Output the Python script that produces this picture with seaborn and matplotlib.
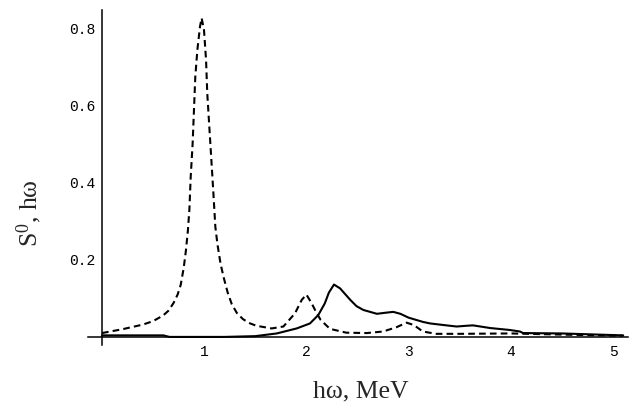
import numpy as np
import pandas as pd
import matplotlib
matplotlib.use("Agg")
import matplotlib.pyplot as plt
from matplotlib.ticker import FixedLocator
import seaborn as sns

# Strength function curves (energy in MeV)
x_dash = [0.00, 0.20, 0.40, 0.50, 0.60, 0.65, 0.70, 0.74, 0.77, 0.80, 0.82,
          0.84, 0.855, 0.868, 0.887, 0.90, 0.913, 0.933, 0.959, 0.975, 0.998,
          1.018, 1.030, 1.050, 1.070, 1.090, 1.109, 1.13, 1.16, 1.19, 1.23,
          1.27, 1.32, 1.38, 1.45, 1.51, 1.66, 1.775, 1.888, 1.954, 2.00, 2.05,
          2.10, 2.14, 2.23, 2.39, 2.59, 2.75, 2.88, 2.98, 3.05, 3.14, 3.27,
          3.50, 4.00, 4.50, 5.10]
y_dash = [0.010, 0.020, 0.032, 0.041, 0.056, 0.068, 0.088, 0.110, 0.135, 0.180,
          0.222, 0.275, 0.330, 0.416, 0.503, 0.590, 0.676, 0.745, 0.806, 0.828,
          0.797, 0.720, 0.633, 0.546, 0.460, 0.373, 0.286, 0.240, 0.190, 0.155,
          0.115, 0.085, 0.062, 0.046, 0.035, 0.029, 0.022, 0.027, 0.061, 0.096,
          0.110, 0.088, 0.062, 0.044, 0.021, 0.011, 0.010, 0.014, 0.025, 0.037,
          0.031, 0.014, 0.008, 0.008, 0.009, 0.006, 0.003]

x_solid = [0.00, 0.60, 0.66, 1.20, 1.50, 1.71, 1.905, 2.035, 2.117, 2.18, 2.22,
           2.27, 2.33, 2.43, 2.49, 2.557, 2.69, 2.78, 2.85, 2.92, 3.00, 3.14,
           3.21, 3.37, 3.47, 3.57, 3.63, 3.80, 3.99, 4.09, 4.12, 4.50, 5.10]
y_solid = [0.004, 0.004, 0.000, 0.000, 0.002, 0.009, 0.022, 0.035, 0.057, 0.087,
           0.115, 0.136, 0.126, 0.096, 0.080, 0.070, 0.060, 0.063, 0.065, 0.060,
           0.050, 0.039, 0.035, 0.030, 0.027, 0.029, 0.030, 0.023, 0.018, 0.014,
           0.010, 0.009, 0.004]

x_ticks = [1, 2, 3, 4, 5]
y_ticks = [0.2, 0.4, 0.6, 0.8]
y_tick_labels = ["0.2", "0.4", "0.6", "0.8"]

sns.set_style("white")
plt.rcParams["mathtext.fontset"] = "custom"
plt.rcParams["mathtext.rm"] = "Liberation Serif"
plt.rcParams["mathtext.it"] = "Liberation Serif:italic"

fig = plt.figure(figsize=(6.36, 4.08), dpi=100)
ax = fig.add_axes([88 / 636, 1 - 345 / 408, 540 / 636, 335 / 408])

dash_df = pd.DataFrame({"E": x_dash, "S": y_dash})
solid_df = pd.DataFrame({"E": x_solid, "S": y_solid})

sns.lineplot(data=dash_df, x="E", y="S", ax=ax, color="black", lw=1.5,
             linestyle=(0, (3.2, 2.0)), estimator=None)
sns.lineplot(data=solid_df, x="E", y="S", ax=ax, color="black", lw=1.5,
             estimator=None)

ax.set_xlim(-0.137, 5.147)
ax.set_ylim(-0.021, 0.849)

# axes crossing at the origin
for side in ("top", "right"):
    ax.spines[side].set_visible(False)
ax.spines["left"].set_position(("data", 0))
ax.spines["bottom"].set_position(("data", 0))
for side in ("left", "bottom"):
    ax.spines[side].set_color("black")
    ax.spines[side].set_linewidth(1.1)

ax.xaxis.set_major_locator(FixedLocator(x_ticks))
ax.set_xticklabels([str(t) for t in x_ticks])
ax.yaxis.set_major_locator(FixedLocator(y_ticks))
ax.set_yticklabels(y_tick_labels)
ax.xaxis.set_minor_locator(FixedLocator(np.arange(0.2, 5.01, 0.2)))
ax.yaxis.set_minor_locator(FixedLocator(np.arange(0.05, 0.84, 0.05)))

ax.tick_params(which="major", direction="in", length=4, width=0.9, color="black")
ax.tick_params(which="minor", direction="in", length=2.4, width=0.8, color="black")
ax.tick_params(axis="x", which="major", pad=6)
ax.tick_params(axis="y", which="major", pad=5)
for lab in ax.get_xticklabels() + ax.get_yticklabels():
    lab.set_fontfamily("Liberation Mono")
    lab.set_fontsize(10.5)
    lab.set_color("black")

ax.set_xlabel("")
ax.set_ylabel("")
fig.text(361 / 636, 1 - 391 / 408, "hω, MeV", family="Liberation Serif",
         fontsize=18.5, ha="center", va="center")
fig.text(29 / 636, 1 - 213 / 408, r"S$^{\mathrm{0}}$, hω", family="Liberation Serif",
         fontsize=18.5, rotation=90, ha="center", va="center")

fig.savefig("out.png", dpi=100, facecolor="white")
